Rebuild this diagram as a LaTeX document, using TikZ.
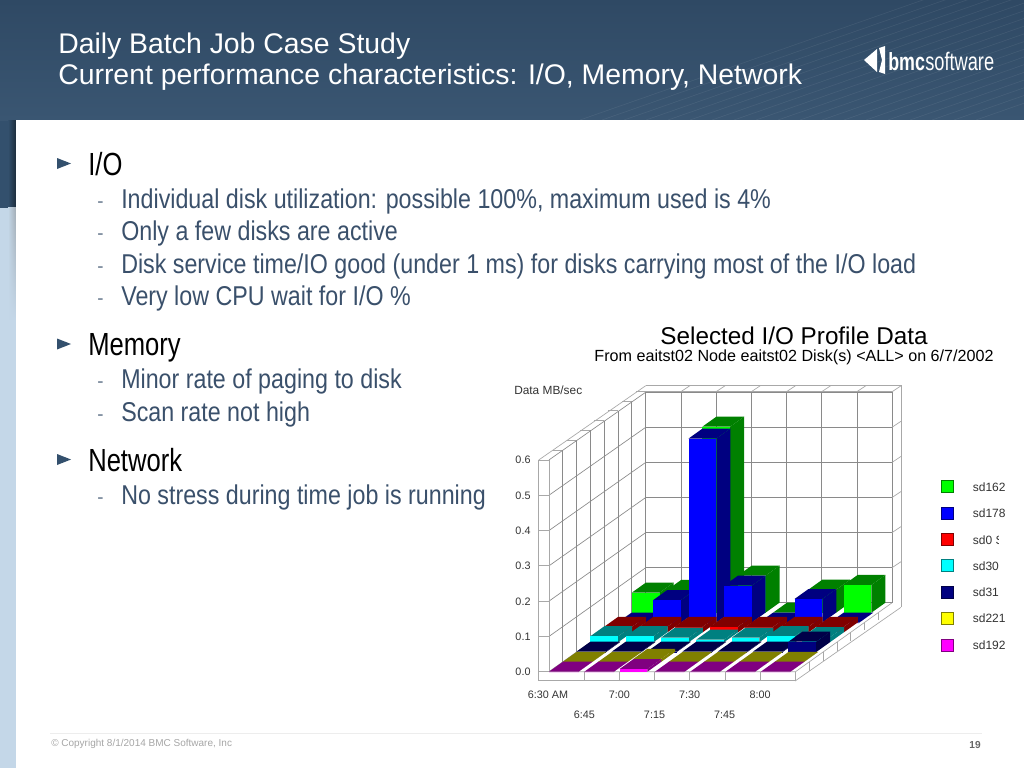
\documentclass[tikz,border=0pt]{standalone}
\usepackage{fontspec}
\setmainfont{Liberation Sans}
\newfontfamily\bodyfont[FakeStretch=0.855]{Liberation Sans}
\newfontfamily\headfont[FakeStretch=0.8]{Liberation Sans}
\newfontfamily\logofont[FakeStretch=0.72]{Liberation Sans}
\usetikzlibrary{positioning,fadings}

\definecolor{bandTop}{HTML}{2F4964}
\definecolor{bandLow}{HTML}{3A5672}
\definecolor{bandSide}{HTML}{33506D}
\definecolor{sideLight}{HTML}{C4D7E8}
\definecolor{subText}{HTML}{3A506B}
\definecolor{gridLine}{HTML}{8A8A8A}
\definecolor{railLine}{HTML}{A8A8A8}
\definecolor{axisText}{HTML}{333333}

\definecolor{sdGreen}{HTML}{00FF00}  \definecolor{sdGreenDark}{HTML}{008000}
\definecolor{sdBlue}{HTML}{0000FF}   \definecolor{sdBlueDark}{HTML}{000080}
\definecolor{sdRed}{HTML}{FF0000}    \definecolor{sdRedDark}{HTML}{800000}
\definecolor{sdCyan}{HTML}{00FFFF}   \definecolor{sdCyanDark}{HTML}{008080}
\definecolor{sdNavy}{HTML}{000080}   \definecolor{sdNavyDark}{HTML}{000048}
\definecolor{sdYellow}{HTML}{FFFF00} \definecolor{sdYellowDark}{HTML}{808000}
\definecolor{sdPink}{HTML}{FF00FF}   \definecolor{sdPinkDark}{HTML}{800080}

\tikzset{
  titleLine/.style={anchor=base west,inner sep=0pt,text=white,font=\fontsize{21.3}{24}\selectfont},
  headLine/.style={anchor=base west,inner sep=0pt,text=black,font=\headfont\fontsize{24}{27}\selectfont},
  subLine/.style={anchor=base west,inner sep=0pt,text=subText,font=\bodyfont\fontsize{20.4}{24}\selectfont},
  subDash/.style={anchor=base west,inner sep=0pt,text=subText!80,font=\fontsize{14}{16}\selectfont},
  axisLabel/.style={anchor=base,inner sep=0pt,text=axisText,font=\fontsize{8.1}{10}\selectfont},
  legendLabel/.style={anchor=base west,inner sep=0pt,text=axisText,font=\fontsize{9}{11}\selectfont},
  gridRule/.style={draw=gridLine,line width=0.5pt},
  railRule/.style={draw=railLine,line width=0.5pt}
}

% one bar of the chart: column, row, height, face colour, dark colour
\newcommand{\chartbar}[5]{
  \pgfmathsetmacro{\barX}{549+35.3*#1+13.8*#2}
  \pgfmathsetmacro{\barY}{671.7-9.84*#2-#3}
  \pgfmathsetmacro{\barW}{#3<1 ? 29.5 : 27.8}
  \fill [#5] (\barX+\barW,\barY) -- ++(14,-10) -- ++(0,#3) -- ++(-14,10) -- cycle;
  \fill [#5] (\barX,\barY) -- ++(14,-10) -- ++(\barW,0) -- ++(-14,10) -- cycle;
  \fill [#4] (\barX,\barY) rectangle ++(\barW,#3);
}

\begin{document}
\begin{tikzpicture}[x=0.75pt,y=-0.75pt]

  \useasboundingbox (0,0) rectangle (1024,768);

  % slide background
  \fill [sideLight] (0,208) rectangle (16,768);
  \fill [bandSide] (0,120) rectangle (16,208);
  \shade [top color=bandTop,bottom color=bandLow] (0,0) rectangle (1024,120);
  \shade [left color=bandSide,right color=bandSide!55!black] (8,120) rectangle (16,208);
  \shade [left color=sideLight,right color=sideLight!50!gray,path fading=south] (8,208) rectangle (16,320);
  \begin{scope}
    \clip (0,0) rectangle (1024,120);
    \foreach \s in {0,22,...,400}
      \draw [white,opacity=0.07,line width=0.5pt] (580+\s,120) -- ++(400,-140);
  \end{scope}
  \fill [white] (16,120) rectangle (1024,768);

  \node [titleLine] (titleOne) at (58,53) {Daily Batch Job Case Study};
  \node [titleLine] (titleTwo) at (58,84) {Current performance characteristics: I/O, Memory, Network};

  % logo
  \fill [white] (864,60) -- (877,49) -- (877,72) -- cycle;
  \fill [white] (879,48) -- (885,46) -- (885,74) -- (879,72) -- (882,60) -- cycle;
  \node [anchor=base west,inner sep=0pt,text=white] (logoBmc) at (888,70)
        {\logofont\bfseries\fontsize{18.6}{20}\selectfont bmc};
  \node [anchor=base west,inner sep=0pt,text=white] (logoSoft) at (925,70)
        {\logofont\fontsize{19}{20}\selectfont software};

  % bullets
  \foreach \y in {163.5,344,459.5}
    \fill [bandSide] (57,\y-5.5) -- (71,\y) -- (57,\y+5.5) -- cycle;

  \node [headLine] (headIO) at (88,175) {I/O};
  \node [subDash] (dashA) at (97,207) {-};
  \node [subLine] (subA) at (121,208) {Individual disk utilization: possible 100\%, maximum used is 4\%};
  \node [subDash] (dashB) at (97,239) {-};
  \node [subLine] (subB) at (121,240.5) {Only a few disks are active};
  \node [subDash] (dashC) at (97,272) {-};
  \node [subLine] (subC) at (121,273) {Disk service time/IO good (under 1 ms) for disks carrying most of the I/O load};
  \node [subDash] (dashD) at (97,304) {-};
  \node [subLine] (subD) at (121,305.5) {Very low CPU wait for I/O \%};

  \node [headLine] (headMem) at (88,355) {Memory};
  \node [subDash] (dashE) at (97,387) {-};
  \node [subLine] (subE) at (121,388.5) {Minor rate of paging to disk};
  \node [subDash] (dashF) at (97,420) {-};
  \node [subLine] (subF) at (121,421) {Scan rate not high};

  \node [headLine] (headNet) at (88,471) {Network};
  \node [subDash] (dashG) at (97,503) {-};
  \node [subLine] (subG) at (121,504) {No stress during time job is running};

  % chart headings
  \node [anchor=base,inner sep=0pt,font=\fontsize{18.2}{20}\selectfont] (chartTitle) at (794,344.5) {Selected I/O Profile Data};
  \node [anchor=base,inner sep=0pt,font=\fontsize{12.1}{14}\selectfont] (chartSub) at (794,361) {From eaitst02 Node eaitst02 Disk(s) <ALL> on 6/7/2002};
  \node [axisLabel,anchor=base west,font=\fontsize{8.9}{10}\selectfont] (yTitle) at (514,394) {Data MB/sec};

  % back wall
  \foreach \i in {0,...,7}
    \draw [gridRule] (645.7+35.2*\i,391.7) -- (645.7+35.2*\i,602.8);
  \foreach \v in {0,...,6}
    \draw [gridRule] (645.7,602.8-35.1*\v) -- (892,602.8-35.1*\v);
  \foreach \i in {1,...,7}
    \draw [railRule] (645.7+35.2*\i,391.7) -- (654.7+35.2*\i,385.7);
  \draw [railRule] (645.7,385.7) -- (901,385.7) -- (901,607.3);
  \draw [railRule] (645.7,391.7) -- (892,391.7);
  \foreach \v in {1,...,5}
    \draw [railRule] (892,602.8-35.1*\v) -- (901,596.8-35.1*\v);

  % left wall
  \foreach \k in {1,...,6}
    \draw [gridRule] (549+13.8*\k,460-9.84*\k) -- (549+13.8*\k,671.7-9.84*\k);
  \foreach \k in {1,...,7}
    \draw [railRule] (549+13.8*\k,460-9.84*\k) -- (539+13.8*\k,460-9.84*\k);
  \foreach \v in {0,...,6}
    \draw [gridRule] (549,671.7-35.3*\v) -- (645.7,602.8-35.1*\v);
  \foreach \v in {0,...,5}
    \draw [railRule] (538.7,671.7-35.3*\v) -- (549,671.7-35.3*\v);
  \draw [railRule] (549,460) -- (549,671.7);
  \draw [railRule] (549,460) -- (538.7,460) -- (538.7,680.7) -- (795.5,680.7);
  \draw [railRule] (538.7,460) -- (645.7,385.7);

  % floor edge
  \draw [railRule] (549,671.7) -- (795.5,671.7) -- (795.5,680.7) -- (901,607.3);
  \draw [railRule] (795.5,671.7) -- (892,602.8);
  \foreach \i in {1,...,6}
    \draw [railRule] (549+35.2*\i,671.7) -- (549+35.2*\i,680.7);
  \foreach \k in {1,...,6}
    \draw [railRule] (795.5+13.8*\k,671.7-9.84*\k) -- (795.5+13.8*\k,680.7-10.05*\k);

  % bars, back row first
  \foreach \c/\h in {0/20,1/22.7,2/186,3/37,4/0,5/23,6/27.7}
    \chartbar{\c}{6}{\h}{sdGreen}{sdGreenDark};
  \foreach \c/\h in {0/0,1/22.5,2/184,3/36.8,4/0,5/23.5,6/0}
    \chartbar{\c}{5}{\h}{sdBlue}{sdBlueDark};
  \foreach \c in {0,...,6}
    \chartbar{\c}{4}{5.6}{sdRed}{sdRedDark};
  \foreach \c/\h in {0/6,1/6,2/4.5,3/2.5,4/4.5,5/6,6/5}
    \chartbar{\c}{3}{\h}{sdCyan}{sdCyanDark};
  \foreach \c/\h in {0/0.5,1/0.5,2/0.5,3/0.5,4/0.5,5/0.5,6/10.3}
    \chartbar{\c}{2}{\h}{sdNavy}{sdNavyDark};
  \foreach \c/\h in {0/0,1/0,2/3,3/0,4/0,5/0,6/0}
    \chartbar{\c}{1}{\h}{sdYellow}{sdYellowDark};
  \foreach \c/\h in {0/0,1/0,2/2.7,3/0,4/0,5/0,6/0}
    \chartbar{\c}{0}{\h}{sdPink}{sdPinkDark};

  % axis numbers
  \foreach \t [count=\n from 0] in {0.0,0.1,0.2,0.3,0.4,0.5,0.6}
    \node [axisLabel] (tick\n) at (523,675.7-35.3*\n) {\t};

  \node [axisLabel] (timeA) at (548,698) {6:30 AM};
  \node [axisLabel] (timeB) at (619.4,698) {7:00};
  \node [axisLabel] (timeC) at (689.6,698) {7:30};
  \node [axisLabel] (timeD) at (760,698) {8:00};
  \node [axisLabel] (timeE) at (584.3,718.3) {6:45};
  \node [axisLabel] (timeF) at (654.5,718.3) {7:15};
  \node [axisLabel] (timeG) at (724.7,718.3) {7:45};

  % legend
  \foreach \y/\face/\edge/\lab [count=\n] in {486.7/sdGreen/sdGreenDark/sd162,
                                   513.3/sdBlue/sdBlueDark/sd178,
                                   539.7/sdRed/sdRedDark/{},
                                   565.7/sdCyan/sdCyanDark/sd30,
                                   592/sdNavy/sdNavyDark/sd31,
                                   618.3/sdYellow/sdYellowDark/sd221,
                                   645/sdPink/sdPinkDark/sd192}
  {
    \fill [\face,draw=\edge,line width=0.4pt] (941,\y-6) rectangle (953,\y+6);
    \node [legendLabel] (legText\n) at (972.6,\y+4.5) {\lab};
  }
  \begin{scope}
    \clip (965,530) rectangle (998.5,550);
    \node [legendLabel] (legTextRed) at (972.6,544.2) {sd0 S};
  \end{scope}

  % footer
  \draw [black!7,line width=0.5pt] (50,733) -- (982,733);
  \node [anchor=west,inner sep=0pt,text=black!35,font=\fontsize{7.5}{9}\selectfont] (copyText) at (51,744)
        {\textcopyright{} Copyright 8/1/2014 BMC Software, Inc};
  \node [inner sep=0pt,text=black!60,font=\bfseries\fontsize{7.6}{9}\selectfont] (pageNum) at (975,745) {19};

\end{tikzpicture}
\end{document}
